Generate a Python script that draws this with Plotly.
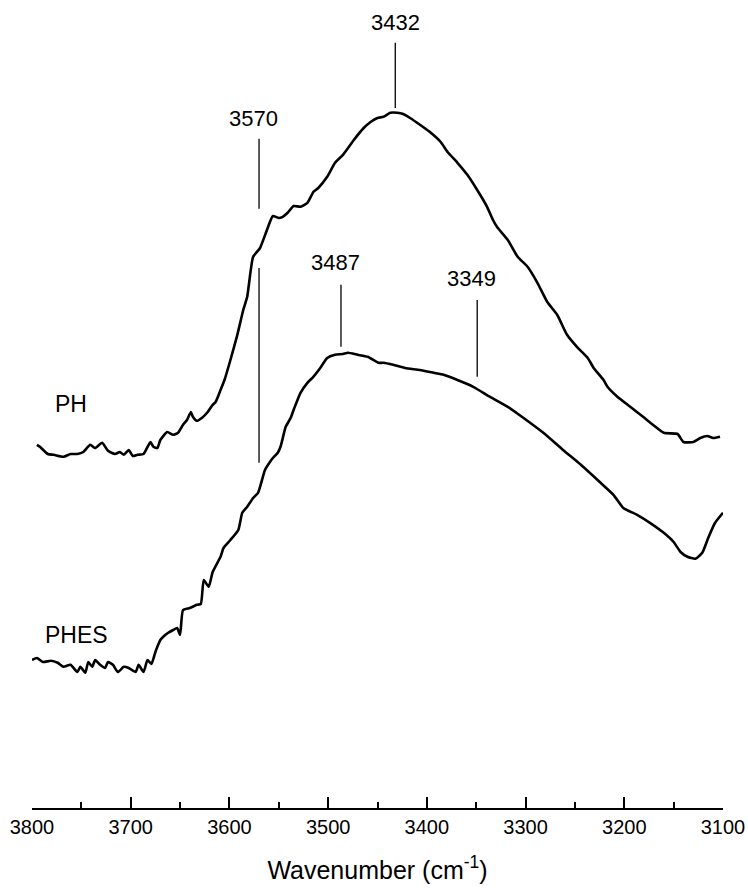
import plotly.graph_objects as go

# IR spectra in the O-H stretching region (absorbance, arbitrary offset units)
ph_wavenumber = [3795, 3792, 3784, 3778, 3768, 3761, 3754, 3748, 3741, 3736,
                 3729, 3723, 3716, 3711, 3707, 3702, 3698, 3693, 3687, 3680,
                 3677, 3673, 3670, 3663, 3657, 3652, 3647, 3643, 3639, 3637,
                 3633, 3628, 3622, 3617, 3614, 3609, 3605, 3599, 3592, 3586,
                 3582, 3576, 3569, 3562, 3556, 3550, 3546, 3541, 3535, 3528,
                 3521, 3515, 3510, 3501, 3493, 3485, 3474, 3464, 3457, 3450,
                 3444, 3437, 3430, 3424, 3417, 3407, 3396, 3386, 3379, 3369,
                 3359, 3349, 3339, 3333, 3329, 3318, 3308, 3298, 3288, 3278,
                 3268, 3258, 3248, 3237, 3231, 3221, 3217, 3207, 3194, 3181,
                 3171, 3160, 3146, 3140, 3130, 3123, 3116, 3110, 3103]
ph_absorbance = [0.908, 0.903, 0.885, 0.883, 0.878, 0.885, 0.885, 0.890, 0.908, 0.900,
                 0.913, 0.893, 0.885, 0.890, 0.883, 0.895, 0.880, 0.883, 0.885, 0.915,
                 0.903, 0.900, 0.920, 0.940, 0.933, 0.938, 0.958, 0.970, 0.990, 0.978,
                 0.968, 0.975, 0.990, 1.008, 1.015, 1.045, 1.070, 1.120, 1.183, 1.245,
                 1.278, 1.378, 1.400, 1.445, 1.480, 1.475, 1.478, 1.488, 1.505, 1.503,
                 1.513, 1.540, 1.550, 1.578, 1.613, 1.633, 1.670, 1.700, 1.715, 1.725,
                 1.728, 1.738, 1.738, 1.735, 1.725, 1.708, 1.688, 1.665, 1.640, 1.613,
                 1.583, 1.545, 1.503, 1.470, 1.453, 1.420, 1.378, 1.353, 1.313, 1.265,
                 1.233, 1.183, 1.153, 1.125, 1.100, 1.070, 1.053, 1.028, 1.003, 0.978,
                 0.958, 0.938, 0.935, 0.915, 0.915, 0.925, 0.930, 0.925, 0.928]

phes_wavenumber = [3800, 3795, 3789, 3781, 3774, 3768, 3761, 3754, 3751, 3746,
                   3743, 3739, 3736, 3731, 3726, 3723, 3718, 3713, 3707, 3702,
                   3695, 3692, 3687, 3683, 3679, 3675, 3673, 3670, 3667, 3662,
                   3657, 3653, 3650, 3647, 3640, 3633, 3629, 3626, 3621, 3617,
                   3609, 3606, 3599, 3591, 3587, 3582, 3576, 3571, 3567, 3564,
                   3559, 3556, 3551, 3548, 3543, 3538, 3535, 3528, 3521, 3515,
                   3508, 3501, 3493, 3485, 3480, 3470, 3460, 3449, 3444, 3434,
                   3422, 3407, 3393, 3383, 3369, 3353, 3336, 3318, 3302, 3282,
                   3262, 3244, 3224, 3211, 3201, 3187, 3174, 3160, 3150, 3143,
                   3136, 3128, 3121, 3115, 3108, 3100]
phes_absorbance = [0.370, 0.375, 0.365, 0.368, 0.363, 0.353, 0.358, 0.340, 0.353, 0.338,
                   0.365, 0.353, 0.370, 0.358, 0.350, 0.365, 0.358, 0.340, 0.353, 0.350,
                   0.340, 0.358, 0.340, 0.370, 0.360, 0.390, 0.403, 0.420, 0.428, 0.438,
                   0.445, 0.450, 0.433, 0.495, 0.500, 0.508, 0.510, 0.570, 0.553, 0.590,
                   0.628, 0.650, 0.670, 0.695, 0.738, 0.753, 0.775, 0.788, 0.820, 0.845,
                   0.865, 0.875, 0.888, 0.905, 0.953, 0.975, 0.995, 1.038, 1.063, 1.078,
                   1.100, 1.125, 1.133, 1.135, 1.138, 1.133, 1.128, 1.113, 1.113, 1.108,
                   1.100, 1.095, 1.088, 1.083, 1.070, 1.053, 1.028, 1.003, 0.975, 0.938,
                   0.895, 0.858, 0.813, 0.783, 0.750, 0.733, 0.713, 0.688, 0.665, 0.640,
                   0.628, 0.623, 0.638, 0.675, 0.713, 0.738]

# Band assignments: position, marker segment (bottom, top), label height
band_positions = [3570, 3570, 3432, 3487, 3349]
band_line_bottom = [1.498, 0.863, 1.750, 1.153, 1.078]
band_line_top = [1.673, 1.350, 1.913, 1.308, 1.270]
band_labels = ["3570", "", "3432", "3487", "3349"]
band_label_y = [1.725, None, 1.965, 1.363, 1.323]
band_label_shift = [-6, 0, 0, -5, -6]

sample_names = ["PH", "PHES"]
sample_label_x = [3760, 3755]
sample_label_y = [1.010, 0.433]

x_ticks = [3800, 3700, 3600, 3500, 3400, 3300, 3200, 3100]

FONT = "Arial, Liberation Sans, Helvetica, sans-serif"

fig = go.Figure()
for wn, ab in ((ph_wavenumber, ph_absorbance), (phes_wavenumber, phes_absorbance)):
    fig.add_trace(go.Scatter(x=wn, y=ab, mode="lines",
                             line=dict(color="black", width=2.6,
                                       shape="spline", smoothing=0.5),
                             showlegend=False))

for pos, y0, y1, lab, ly, dx in zip(band_positions, band_line_bottom, band_line_top,
                                    band_labels, band_label_y, band_label_shift):
    fig.add_shape(type="line", x0=pos, x1=pos, y0=y0, y1=y1, xref="x", yref="y",
                  line=dict(color="black", width=1.3))
    if lab:
        fig.add_annotation(x=pos, y=ly, text=lab, showarrow=False, xshift=dx,
                           font=dict(family=FONT, size=22, color="black"))

for name, lx, ly in zip(sample_names, sample_label_x, sample_label_y):
    fig.add_annotation(x=lx, y=ly, text=name, showarrow=False,
                       font=dict(family=FONT, size=23, color="black"))

fig.update_xaxes(range=[3800, 3100], tickvals=x_ticks,
                 ticks="inside", ticklen=11, tickwidth=2, tickcolor="black",
                 minor=dict(dtick=50, ticks="inside", ticklen=6, tickwidth=2,
                            tickcolor="black"),
                 showline=True, linewidth=2, linecolor="black",
                 showgrid=False, zeroline=False, automargin=False,
                 tickfont=dict(family=FONT, size=20, color="black"),
                 title=dict(text="Wavenumber (cm<sup>-1</sup>)",
                            font=dict(family=FONT, size=25, color="black"),
                            standoff=24))
fig.update_yaxes(range=[0, 2.02], visible=False, showgrid=False, zeroline=False)

fig.update_layout(width=748, height=888,
                  margin=dict(l=32, r=25, t=0, b=80, autoexpand=False),
                  plot_bgcolor="white", paper_bgcolor="white")

fig.write_html("out.html")
